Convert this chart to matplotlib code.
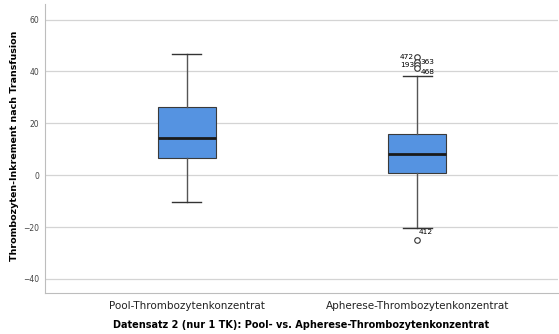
import matplotlib
matplotlib.use("Agg")
import matplotlib.pyplot as plt

# box statistics
groups = ["Pool-Thrombozytenkonzentrat", "Apherese-Thrombozytenkonzentrat"]
whislo = [-10.3, -20.3]
q1 = [6.8, 0.9]
med = [14.3, 8.0]
q3 = [26.3, 15.8]
whishi = [46.8, 38.2]

# outliers (case numbers) of the second group
out_vals = [45.4, 43.6, 42.4, 41.3, -25.0]
out_ids = ["472", "363", "193", "468", "412"]
out_side = ["l", "r", "l", "r", "r"]

stats = []
for i in range(len(groups)):
    stats.append({"whislo": whislo[i], "q1": q1[i], "med": med[i],
                  "q3": q3[i], "whishi": whishi[i], "fliers": []})

fig = plt.figure(figsize=(5.59, 3.34), dpi=100)
ax = fig.add_axes([0.0805, 0.1228, 0.9175, 0.8652])

ax.yaxis.grid(True, color="#d4d4d4", linewidth=0.9)
ax.set_axisbelow(True)

ax.bxp(stats, positions=[1, 2], widths=0.25, patch_artist=True, showfliers=False,
       boxprops=dict(facecolor="#5593e1", edgecolor="#3a3a3a", linewidth=0.8),
       medianprops=dict(color="#1a1a1a", linewidth=2),
       whiskerprops=dict(color="#555555", linewidth=1),
       capprops=dict(color="#333333", linewidth=1), capwidths=0.126)

ax.plot([2] * len(out_vals), out_vals, "o", markersize=4, markerfacecolor="white",
        markeredgecolor="#333333", markeredgewidth=0.8, linestyle="none")
for v, lab, side in zip(out_vals, out_ids, out_side):
    if v < 0:
        ax.text(2.005, v + 1.8, lab, fontsize=5.3, ha="left", va="bottom")
    elif side == "l":
        ax.text(1.985, v, lab, fontsize=5.3, ha="right", va="center")
    elif lab == "468":
        ax.text(2.015, v - 1.6, lab, fontsize=5.3, ha="left", va="center")
    else:
        ax.text(2.015, v, lab, fontsize=5.3, ha="left", va="center")

ax.set_xlim(0.385, 2.61)
ax.set_ylim(-45.4, 66)
ax.set_yticks([-40, -20, 0, 20, 40, 60])
ax.set_xticks([1, 2])
ax.set_xticklabels(groups, fontsize=7.5, color="#222222")
ax.tick_params(axis="y", labelsize=5.5, length=0, pad=4, colors="#444444")
ax.tick_params(axis="x", length=0, pad=6)

for s in ["top", "right"]:
    ax.spines[s].set_visible(False)
ax.spines["left"].set_color("#bdbdbd")
ax.spines["bottom"].set_color("#bdbdbd")

ax.set_ylabel("Thrombozyten-Inkrement nach Transfusion", fontsize=6.8,
              fontweight="bold")
ax.yaxis.set_label_coords(-0.05, 0.51)
ax.set_xlabel("Datensatz 2 (nur 1 TK): Pool- vs. Apherese-Thrombozytenkonzentrat",
              fontsize=7, fontweight="bold", labelpad=6)

fig.savefig("out.png", dpi=100)
